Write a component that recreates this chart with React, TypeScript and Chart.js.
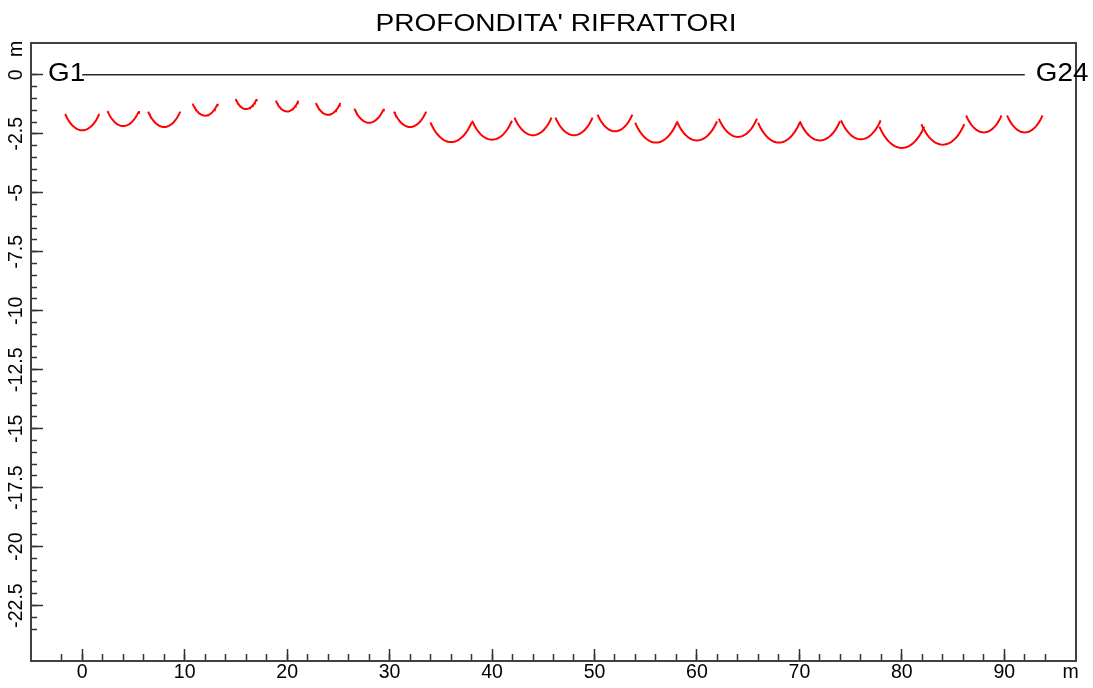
import React, { useEffect, useRef } from "react";
import { Chart, registerables } from "chart.js";

Chart.register(...registerables);

const TITLE = "PROFONDITA' RIFRATTORI";
const FIRST_LABEL = "G1";
const LAST_LABEL = "G24";
const X_UNIT = "m";
const Y_UNIT = "m";

// geophone positions (m)
const geophoneX = [0, 4, 8, 12, 16, 20, 24, 28, 32, 36, 40, 44, 48, 52, 56, 60, 64, 68, 72, 76, 80, 84, 88, 92];
// refractor depth below each geophone (m), radius of each arc
const refractorDepth = [
  2.35, 2.17, 2.21, 1.73, 1.45, 1.55, 1.69, 2.03, 2.21, 2.85, 2.75, 2.56,
  2.56, 2.39, 2.87, 2.78, 2.63, 2.87, 2.78, 2.73, 3.1, 2.96, 2.44, 2.44,
];
// ground surface line
const surfaceX = [0, 92];
const surfaceY = [0, 0];

const xTickValues = [0, 10, 20, 30, 40, 50, 60, 70, 80, 90];
const yTickValues = [0, -2.5, -5, -7.5, -10, -12.5, -15, -17.5, -20, -22.5];

const X_MIN = -5;
const X_MAX = 97;
const Y_MIN = -24.85;
const Y_MAX = 1.35;

const ARC_HALF_ANGLE = 45; // degrees each side of the vertical
const ARC_STEPS = 30;

const FONT = "'Liberation Sans', Arial, sans-serif";

function range(a: number, b: number, step: number): number[] {
  const out: number[] = [];
  const n = Math.round((b - a) / step);
  for (let i = 0; i <= n; i++) out.push(+(a + i * step).toFixed(4));
  return out;
}
const xMinorTicks = range(-2, 94, 2);
const yMinorTicks = range(-23.5, 0, 0.5);

function arcPoints(cx: number, r: number) {
  const pts: { x: number; y: number }[] = [];
  for (let k = 0; k <= ARC_STEPS; k++) {
    const a = ((-ARC_HALF_ANGLE + (2 * ARC_HALF_ANGLE * k) / ARC_STEPS) * Math.PI) / 180;
    pts.push({ x: cx + r * Math.sin(a), y: -r * Math.cos(a) });
  }
  return pts;
}

const framePlugin = {
  id: "frameAndText",
  afterDraw(chart: any) {
    const { ctx, chartArea, scales } = chart;
    const xs = scales.x;
    const ys = scales.y;
    ctx.save();
    ctx.strokeStyle = "#404040";
    ctx.lineWidth = 2;
    ctx.strokeRect(chartArea.left, chartArea.top, chartArea.right - chartArea.left, chartArea.bottom - chartArea.top);

    ctx.fillStyle = "#000";
    // title
    ctx.font = `24px ${FONT}`;
    ctx.textAlign = "center";
    ctx.textBaseline = "alphabetic";
    ctx.save();
    ctx.translate(556, 31);
    ctx.scale(1.17, 1);
    ctx.fillText(TITLE, 0, 0);
    ctx.restore();

    // geophone end labels
    const y0 = ys.getPixelForValue(0);
    ctx.font = `26px ${FONT}`;
    ctx.save();
    ctx.translate(xs.getPixelForValue(surfaceX[0]) + 3, y0 + 6);
    ctx.scale(1.07, 1);
    ctx.textAlign = "right";
    ctx.fillText(FIRST_LABEL, 0, 0);
    ctx.restore();
    ctx.save();
    ctx.translate(xs.getPixelForValue(surfaceX[1]) + 11, y0 + 6);
    ctx.scale(1.07, 1);
    ctx.textAlign = "left";
    ctx.fillText(LAST_LABEL, 0, 0);
    ctx.restore();

    // units
    ctx.font = `19.5px ${FONT}`;
    ctx.textAlign = "center";
    ctx.textBaseline = "middle";
    ctx.fillText(X_UNIT, 1070.5, 673);
    ctx.save();
    ctx.translate(16.7, 49);
    ctx.rotate(-Math.PI / 2);
    ctx.fillText(Y_UNIT, 0, 0);
    ctx.restore();
    ctx.restore();
  },
};

export default function App() {
  const ref = useRef<HTMLCanvasElement | null>(null);
  useEffect(() => {
    if (!ref.current) return;
    const datasets: any[] = geophoneX.map((gx, i) => ({
      data: arcPoints(gx, refractorDepth[i]),
      borderColor: "#ff0000",
      borderWidth: 2,
      pointRadius: 0,
      fill: false,
      tension: 0,
    }));
    datasets.push({
      data: surfaceX.map((x, i) => ({ x, y: surfaceY[i] })),
      borderColor: "#2a2a2a",
      borderWidth: 1.5,
      pointRadius: 0,
      fill: false,
    });
    const tickFont = { family: FONT, size: 19.5 };
    const chart = new Chart(ref.current, {
      type: "line",
      data: { datasets },
      options: {
        animation: false,
        responsive: false,
        devicePixelRatio: 1,
        layout: { padding: { top: 43, right: 17, left: 0, bottom: 0 } },
        plugins: { legend: { display: false }, title: { display: false }, tooltip: { enabled: false } },
        scales: {
          x: {
            type: "linear",
            position: "bottom",
            weight: 1,
            min: X_MIN,
            max: X_MAX,
            afterBuildTicks: (s: any) => {
              s.ticks = xTickValues.map((v) => ({ value: v }));
            },
            afterFit: (s: any) => {
              s.height = 27;
            },
            grid: { drawOnChartArea: false, drawTicks: true, tickLength: -12, tickColor: "#333", tickWidth: 1.5 },
            border: { display: false },
            ticks: { maxRotation: 0, minRotation: 0, autoSkip: false, padding: 12.4, font: tickFont, color: "#000", callback: (v: any) => String(v) },
          },
          xMinor: {
            type: "linear",
            position: "bottom",
            weight: 0,
            min: X_MIN,
            max: X_MAX,
            afterBuildTicks: (s: any) => {
              s.ticks = xMinorTicks.map((v) => ({ value: v }));
            },
            afterFit: (s: any) => {
              s.height = 0;
            },
            grid: { drawOnChartArea: false, drawTicks: true, tickLength: -7, tickColor: "#333", tickWidth: 1.5 },
            border: { display: false },
            ticks: { display: false },
          },
          y: {
            type: "linear",
            position: "left",
            weight: 1,
            min: Y_MIN,
            max: Y_MAX,
            afterBuildTicks: (s: any) => {
              s.ticks = yTickValues.map((v) => ({ value: v }));
            },
            afterFit: (s: any) => {
              s.width = 31;
            },
            grid: { drawOnChartArea: false, drawTicks: true, tickLength: -12, tickColor: "#333", tickWidth: 1.5 },
            border: { display: false },
            ticks: { minRotation: 90, maxRotation: 90, crossAlign: "center", autoSkip: false, padding: 4.2, font: tickFont, color: "#000", callback: (v: any) => String(v) },
          },
          yMinor: {
            type: "linear",
            position: "left",
            weight: 0,
            min: Y_MIN,
            max: Y_MAX,
            afterBuildTicks: (s: any) => {
              s.ticks = yMinorTicks.map((v) => ({ value: v }));
            },
            afterFit: (s: any) => {
              s.width = 0;
            },
            grid: { drawOnChartArea: false, drawTicks: true, tickLength: -6, tickColor: "#333", tickWidth: 1.5 },
            border: { display: false },
            ticks: { display: false },
          },
        },
      } as any,
      plugins: [framePlugin],
    });
    return () => chart.destroy();
  }, []);
  return (
    <div style={{ position: "absolute", left: 0, top: 0, width: 1093, height: 688, background: "#fff" }}>
      <canvas ref={ref} width={1093} height={688} style={{ display: "block" }} />
    </div>
  );
}
